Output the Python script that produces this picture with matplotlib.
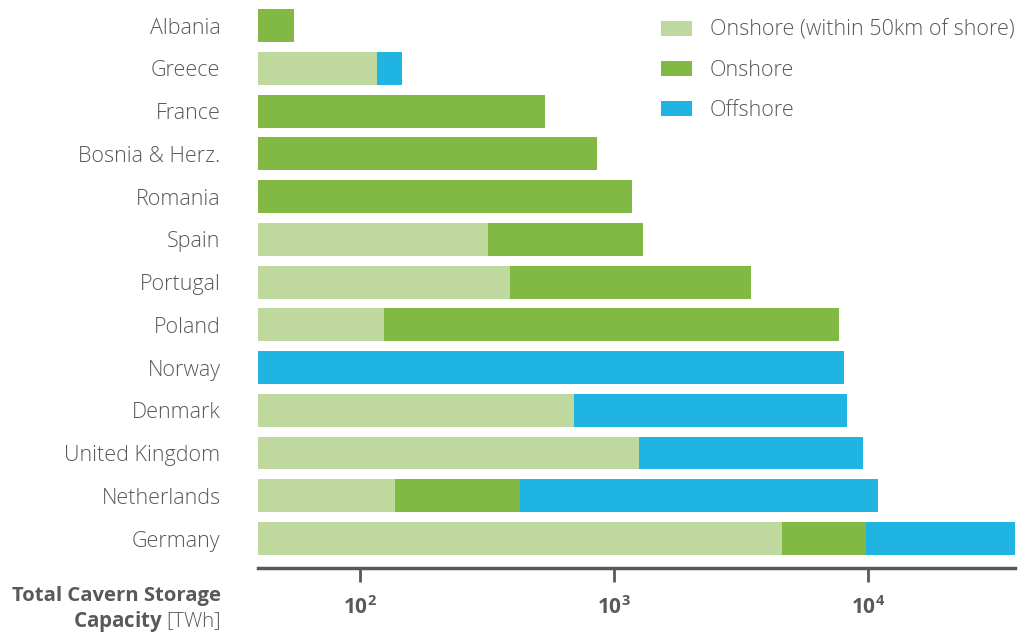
import numpy as np
import matplotlib
matplotlib.use("Agg")
import matplotlib.pyplot as plt

# ── Data (TWh, segment sizes; segments stack left to right) ──────────────────
countries = ["Albania", "Greece", "France", "Bosnia & Herz.", "Romania", "Spain",
             "Portugal", "Poland", "Norway", "Denmark", "United Kingdom",
             "Netherlands", "Germany"]
onshore_50km = [0, 116, 0, 0, 0, 319, 390, 123, 0, 696, 1254, 136, 4580]
onshore      = [54, 0, 535, 857, 1178, 981, 3070, 7567, 0, 0, 0, 291, 5240]
offshore     = [0, 30, 0, 0, 0, 0, 0, 0, 8050, 7574, 8296, 10513, 35000]
series_names = ["Onshore (within 50km of shore)", "Onshore", "Offshore"]

colors = ["#bfd89d", "#82b945", "#1fb4e1"]
grey = "#595959"

plt.rcParams["font.family"] = ["Open Sans", "DejaVu Sans"]
plt.rcParams["mathtext.fontset"] = "custom"
plt.rcParams["mathtext.rm"] = "Open Sans"
plt.rcParams["mathtext.bf"] = "Open Sans:bold"

fig = plt.figure(figsize=(10.27, 6.34), dpi=100)
ax = fig.add_axes([258 / 1027, 66 / 634, 757 / 1027, 568 / 634])

y = np.arange(len(countries))
base = 1.0
left = np.full(len(countries), base)
for vals, col, name in zip([onshore_50km, onshore, offshore], colors, series_names):
    vals = np.array(vals, dtype=float)
    ax.barh(y, vals, left=left, height=0.77, color=col, label=name, linewidth=0)
    left = left + vals

ax.set_xscale("log")
ax.set_xlim(39.7, 37900)
ax.set_ylim(12.69, -0.6)

ax.set_yticks(y)
ax.set_yticklabels(countries, fontsize=15.5, color=grey, fontweight="light")
ax.tick_params(axis="y", length=0, pad=27)

ax.set_xticks([1e2, 1e3, 1e4])
ax.set_xticklabels([r"$\mathbf{10^{2}}$", r"$\mathbf{10^{3}}$", r"$\mathbf{10^{4}}$"],
                   fontsize=15, color=grey)
ax.xaxis.set_minor_locator(matplotlib.ticker.NullLocator())
ax.tick_params(axis="x", length=10, width=2, color=grey, pad=10)

for side in ["top", "right", "left"]:
    ax.spines[side].set_visible(False)
ax.spines["bottom"].set_color(grey)
ax.spines["bottom"].set_linewidth(2.5)

fig.text(221 / 1027, 1 - 596 / 634, "Total Cavern Storage", ha="right", va="center",
         fontsize=14.6, fontweight="bold", color=grey)
fig.text(221 / 1027, 1 - 621 / 634, r"$\mathbf{Capacity}$ [TWh]", ha="right", va="center",
         fontsize=14.8, fontweight="light", color=grey)

leg = ax.legend(loc="upper right", bbox_to_anchor=(1.019, 0.992), frameon=False,
                prop={"size": 15.5, "weight": "light"}, labelcolor=grey,
                handlelength=1.42, handleheight=0.7, handletextpad=0.83,
                labelspacing=0.9, borderpad=0.2)

plt.savefig("out.png", dpi=100)
